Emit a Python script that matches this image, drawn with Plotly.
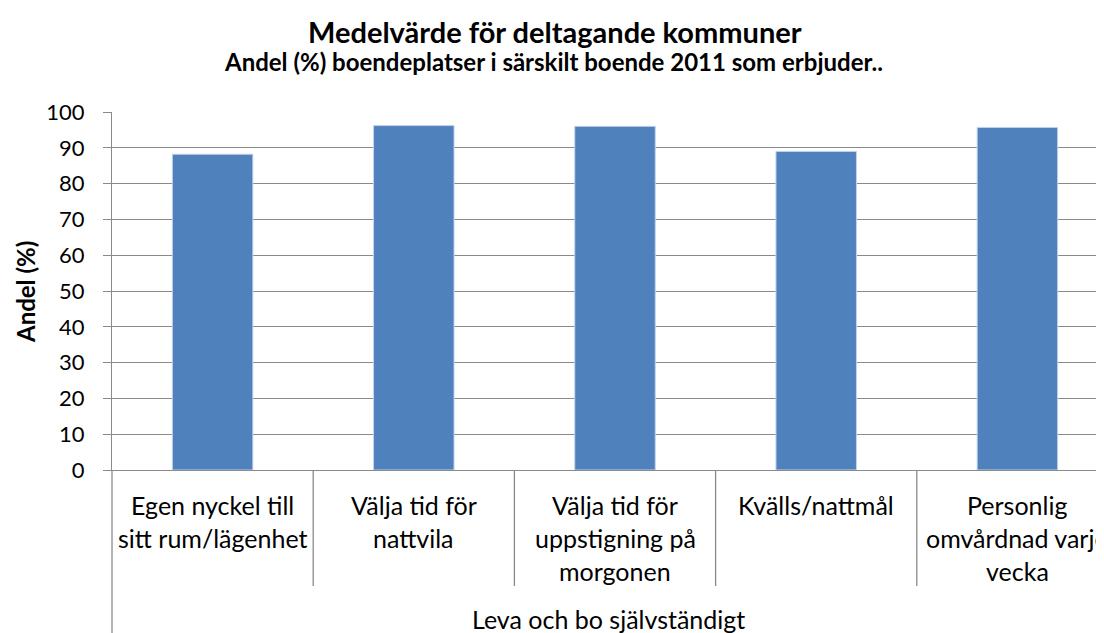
import plotly.graph_objects as go

# ---- data ----
categories = [
    "Egen nyckel till\nsitt rum/lägenhet",
    "Välja tid för\nnattvila",
    "Välja tid för\nuppstigning på\nmorgonen",
    "Kvälls/nattmål",
    "Personlig\nomvårdnad varje\nvecka",
]
values = [88.2, 96.2, 96.0, 89.0, 95.7]
group_label = "Leva och bo självständigt"
y_ticks = list(range(0, 101, 10))
title = "Medelvärde för deltagande kommuner"
subtitle = "Andel (%) boendeplatser i särskilt boende 2011 som erbjuder.."
y_title = "Andel (%)"

# ---- layout geometry (page has an 8px body margin) ----
OFF = 8
W, H = 1104 - OFF, 633 - OFF
PLOT_L, PLOT_T, PLOT_B, PLOT_R = 112, 112, 470, 1104   # page pixels
ML, MT = PLOT_L - OFF, PLOT_T - OFF
MB = H - (PLOT_B - OFF)
MR = W - (PLOT_R - OFF)
PW, PH = W - ML - MR, H - MT - MB
CAT_W = 201.2
x_range = [-0.5, -0.5 + PW / CAT_W]

FONT = "Lato, Calibri, Carlito, sans-serif"
GRID = "#8a8a8a"


def xp(px):
    return (px - PLOT_L) / PW


def yp(py):
    return (PLOT_B - py) / PH


x_idx = list(range(len(categories)))

fig = go.Figure()
fig.add_trace(go.Bar(
    x=x_idx, y=values, width=0.4,
    marker=dict(color="#4F81BD", line=dict(color="#C3D3E8", width=1)),
    hoverinfo="skip",
))

annotations = []
for i, lab in enumerate(categories):
    for k, line in enumerate(lab.split("\n")):
        annotations.append(dict(
            x=i, xref="x", y=yp(505 + 33 * k), yref="paper",
            text=line, showarrow=False, xanchor="center", yanchor="middle",
            font=dict(family=FONT, size=25, color="#000000"),
        ))
annotations.append(dict(
    x=xp(608), xref="paper", y=yp(619), yref="paper", text=group_label,
    showarrow=False, xanchor="center", yanchor="middle",
    font=dict(family=FONT, size=25, color="#000000"),
))
annotations.append(dict(
    x=xp(555), xref="paper", y=yp(31), yref="paper", text="<b>" + title + "</b>",
    showarrow=False, xanchor="center", yanchor="middle",
    font=dict(family=FONT, size=29, color="#000000"),
))
annotations.append(dict(
    x=xp(553), xref="paper", y=yp(61), yref="paper", text="<b>" + subtitle + "</b>",
    showarrow=False, xanchor="center", yanchor="middle",
    font=dict(family=FONT, size=24, color="#000000"),
))
annotations.append(dict(
    x=xp(25), xref="paper", y=yp(292), yref="paper", text="<b>" + y_title + "</b>",
    showarrow=False, xanchor="center", yanchor="middle", textangle=-90,
    font=dict(family=FONT, size=24, color="#000000"),
))

shapes = []
for i in range(len(categories)):
    shapes.append(dict(
        type="line", xref="x", yref="paper", x0=i + 0.5, x1=i + 0.5,
        y0=0, y1=yp(586), line=dict(color=GRID, width=1.3),
    ))
shapes.append(dict(
    type="line", xref="paper", yref="paper", x0=0, x1=0,
    y0=0, y1=yp(640), line=dict(color=GRID, width=1.3),
))

fig.update_layout(
    width=W, height=H,
    margin=dict(l=ML, r=MR, t=MT, b=MB, pad=0),
    paper_bgcolor="white", plot_bgcolor="white",
    showlegend=False,
    font=dict(family=FONT, color="#000000"),
    xaxis=dict(
        range=x_range, showticklabels=False, showgrid=False, zeroline=False,
        showline=True, linecolor=GRID, linewidth=1.3, ticks="", fixedrange=True,
    ),
    yaxis=dict(
        range=[0, 100], tickvals=y_ticks, ticktext=[str(v) for v in y_ticks],
        showgrid=True, gridcolor=GRID, gridwidth=1.3, zeroline=False,
        showline=True, linecolor=GRID, linewidth=1.3,
        ticks="outside", ticklen=8, tickcolor=GRID, tickwidth=1.3,
        ticklabelstandoff=14,
        tickfont=dict(family=FONT, size=22, color="#000000"),
        fixedrange=True,
    ),
    annotations=annotations,
    shapes=shapes,
)

fig.write_html("out.html")
